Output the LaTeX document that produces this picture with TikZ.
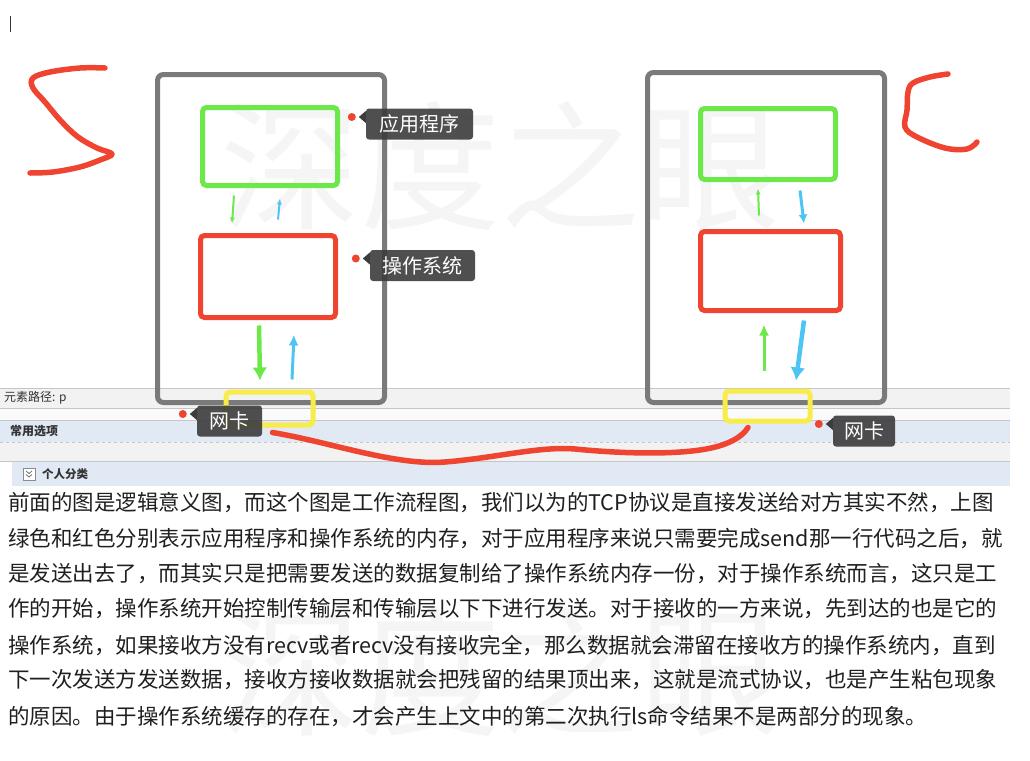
\documentclass[tikz,border=0pt]{standalone}
\usepackage{fontspec}
\usetikzlibrary{calc,arrows.meta}
\newfontfamily\cjk{Noto Sans CJK SC}
\definecolor{penRed}{HTML}{EE4430}
\definecolor{mGray}{HTML}{7A7A7A}
\definecolor{mGreen}{HTML}{6CE84A}
\definecolor{mBlue}{HTML}{4EC4F5}
\definecolor{mYellow}{HTML}{F8EC4A}
\definecolor{mTag}{HTML}{3C3C3C}
\definecolor{stripGray}{HTML}{F2F2F2}
\definecolor{stripBlue}{HTML}{E1E9F4}
\definecolor{stripLine}{HTML}{C6C6C6}
\tikzset{
  frame/.style={draw=mGray, line width=5pt, rounded corners=6pt, inner sep=0pt},
  appbox/.style={draw=mGreen, line width=5pt, rounded corners=4pt, inner sep=0pt},
  osbox/.style={draw=penRed, line width=5pt, rounded corners=4pt, inner sep=0pt},
  nicbox/.style={draw=mYellow, line width=5pt, rounded corners=4pt, inner sep=0pt},
  tag/.style={fill=mTag, fill opacity=0.9, text opacity=1, text=white, rounded corners=3pt,
    inner sep=0pt, minimum height=31pt, font=\cjk\fontsize{20}{20}\selectfont},
  wmark/.style={text=black!4, font=\cjk\fontsize{140}{140}\selectfont},
  strip/.style={text=black!80, anchor=west, inner sep=0pt, font=\cjk\fontsize{12}{12}\selectfont},
  thin/.style={line width=2pt, -{Latex[length=6pt,width=5pt]}},
  thick/.style={line width=3.5pt, -{Latex[length=13pt,width=15pt]}},
  pen/.style={penRed, line width=5.5pt, line cap=round, line join=round}
}
\begin{document}
\begin{tikzpicture}[x=1pt, y=-1pt, every node/.style={font=\cjk}]
  \useasboundingbox (0,0) rectangle (1030,760);
  \node[wmark] (wmTop) at (500,166) {深度之眼};
  \node[wmark] (wmLow) at (500,672) {深度之眼};

  % editor strip
  \fill[stripGray] (0,388) rectangle (1010,420);
  \fill[white!60!stripGray] (0,408) rectangle (1010,420);
  \fill[stripBlue] (0,420) rectangle (1010,442);
  \fill[stripGray] (0,442) rectangle (1010,462);
  \fill[stripBlue] (12,462) rectangle (1010,486);
  \foreach \ly in {388,408,420,461}
    \draw[stripLine, line width=0.8pt] (0,\ly) -- (1010,\ly);
  \draw[stripLine, line width=0.8pt, dashed] (0,442) -- (1010,442);
  \node[strip] (pathText) at (4,398) {元素路径: p};
  \node[strip, font=\cjk\bfseries\fontsize{12}{12}\selectfont] (optText) at (10,431) {常用选项};
  \node[draw=black!45, fill=white, minimum size=12pt, inner sep=0pt] (chk) at (29,474) {};
  \draw[black!60, line width=0.7pt] ($(chk)+(-3,-3)$) -- ($(chk)+(0,-0.5)$) -- ($(chk)+(3,-3)$)
    ($(chk)+(-3,0.5)$) -- ($(chk)+(0,3)$) -- ($(chk)+(3,0.5)$);
  \node[strip, font=\cjk\bfseries\fontsize{11.5}{12}\selectfont] (catText) at (42,474) {个人分类};

  % sender and receiver
  \node[frame, minimum width=227pt, minimum height=328pt] (hostL) at (271,238.5) {};
  \node[frame, minimum width=237pt, minimum height=330pt] (hostR) at (766,237.5) {};
  \node[appbox, minimum width=135pt, minimum height=78pt] (appL) at (270,146.5) {};
  \node[osbox, minimum width=135pt, minimum height=82pt] (osL) at (268,276.5) {};
  \node[appbox, minimum width=135pt, minimum height=71pt] (appR) at (768,144) {};
  \node[osbox, minimum width=140pt, minimum height=79pt] (osR) at (770.5,271) {};
  \node[nicbox, minimum width=87pt, minimum height=33pt] (nicL) at (269.5,408.5) {};
  \node[nicbox, minimum width=85pt, minimum height=30pt] (nicR) at (767.5,406) {};

  \draw[thin, mGreen] ($(appL.south)+(-36,7.5)$) -- ($(osL.north)+(-36,-9.5)$);
  \draw[thin, mBlue] ($(osL.north)+(10,-13.5)$) -- ($(appL.south)+(10,10.5)$);
  \draw[thick, mGreen, line width=4.5pt] ($(osL.south)+(-9,5.5)$) -- ($(nicL.north)+(-9.5,-9)$);
  \draw[thick, mBlue, line width=3pt, -{Latex[length=11pt,width=10pt]}] ($(nicL.north)+(22.5,-10)$) -- ($(osL.south)+(26,14.5)$);
  \draw[thin, mGreen] ($(osR.north)+(-11.5,-13.5)$) -- ($(appR.south)+(-10,6.5)$);
  \draw[thin, mBlue, line width=3pt, -{Latex[length=9pt,width=9pt]}] ($(appR.south)+(32,8.5)$) -- ($(osR.north)+(33.5,-5.5)$);
  \draw[thick, mGreen, line width=3pt, -{Latex[length=11pt,width=10pt]}] ($(nicR.north)+(-3.5,-18)$) -- ($(osR.south)+(-6.5,11.5)$);
  \draw[thick, mBlue, line width=4.5pt] ($(osR.south)+(33.5,7.5)$) -- ($(nicR.north)+(28.5,-8)$);

  % callouts
  \node[tag, minimum width=107pt] (tagApp) at (419.5,124) {应用程序};
  \node[tag, minimum width=105pt] (tagOS) at (422.5,265.5) {操作系统};
  \node[tag, minimum width=65pt] (tagNicL) at (229.5,421) {网卡};
  \node[tag, minimum width=62pt] (tagNicR) at (864,431) {网卡};
  \foreach \t in {tagApp,tagOS,tagNicL,tagNicR} {
    \fill[mTag] ($(\t.west)+(0,-13)$) -- ($(\t.west)+(-7,-7)$) -- ($(\t.west)+(0,-1)$) -- cycle;
    \fill[penRed] ($(\t.west)+(-14,-7)$) circle (4);
  }

  % hand-drawn strokes
  \draw[pen] ($(nicL.south)+(3,5)$) .. controls (330,442) and (395,466) .. (445,462)
    .. controls (495,458) and (540,446) .. (575,449)
    .. controls (615,453) and (665,455) .. (700,450)
    .. controls (728,446) and (742,437) .. ($(nicR.south)+(-19.5,4)$);
  \draw[pen] plot[smooth, tension=0.6] coordinates {(105,68) (80,68) (50,72) (33,78) (33,88)
    (45,102) (61,121) (78,137) (97,148) (112,154) (100,160) (80,167) (53,172) (30,173)};
  \draw[pen] plot[smooth, tension=0.6] coordinates {(948,74) (930,77) (913,83) (908,92)
    (907,110) (905,127) (917,137) (945,148) (967,149) (977,142)};
  \draw[black!80, line width=1pt] (10,16) -- (10,32);

  % paragraph
  \foreach \ly/\txt [count=\i] in {
    503/前面的图是逻辑意义图，而这个图是工作流程图，我们以为的TCP协议是直接发送给对方其实不然，上图,
    539/绿色和红色分别表示应用程序和操作系统的内存，对于应用程序来说只需要完成send那一行代码之后，就,
    574/是发送出去了，而其实只是把需要发送的数据复制给了操作系统内存一份，对于操作系统而言，这只是工,
    609/作的开始，操作系统开始控制传输层和传输层以下下进行发送。对于接收的一方来说，先到达的也是它的,
    645/操作系统，如果接收方没有recv或者recv没有接收完全，那么数据就会滞留在接收方的操作系统内，直到,
    680/下一次发送方发送数据，接收方接收数据就会把残留的结果顶出来，这就是流式协议，也是产生粘包现象,
    716/的原因。由于操作系统缓存的存在，才会产生上文中的第二次执行ls命令结果不是两部分的现象。}
    \node[anchor=west, inner sep=0pt, text=black!88, font=\cjk\fontsize{21.5}{22}\selectfont] (line\i) at (8,\ly) {\txt};
\end{tikzpicture}
\end{document}
